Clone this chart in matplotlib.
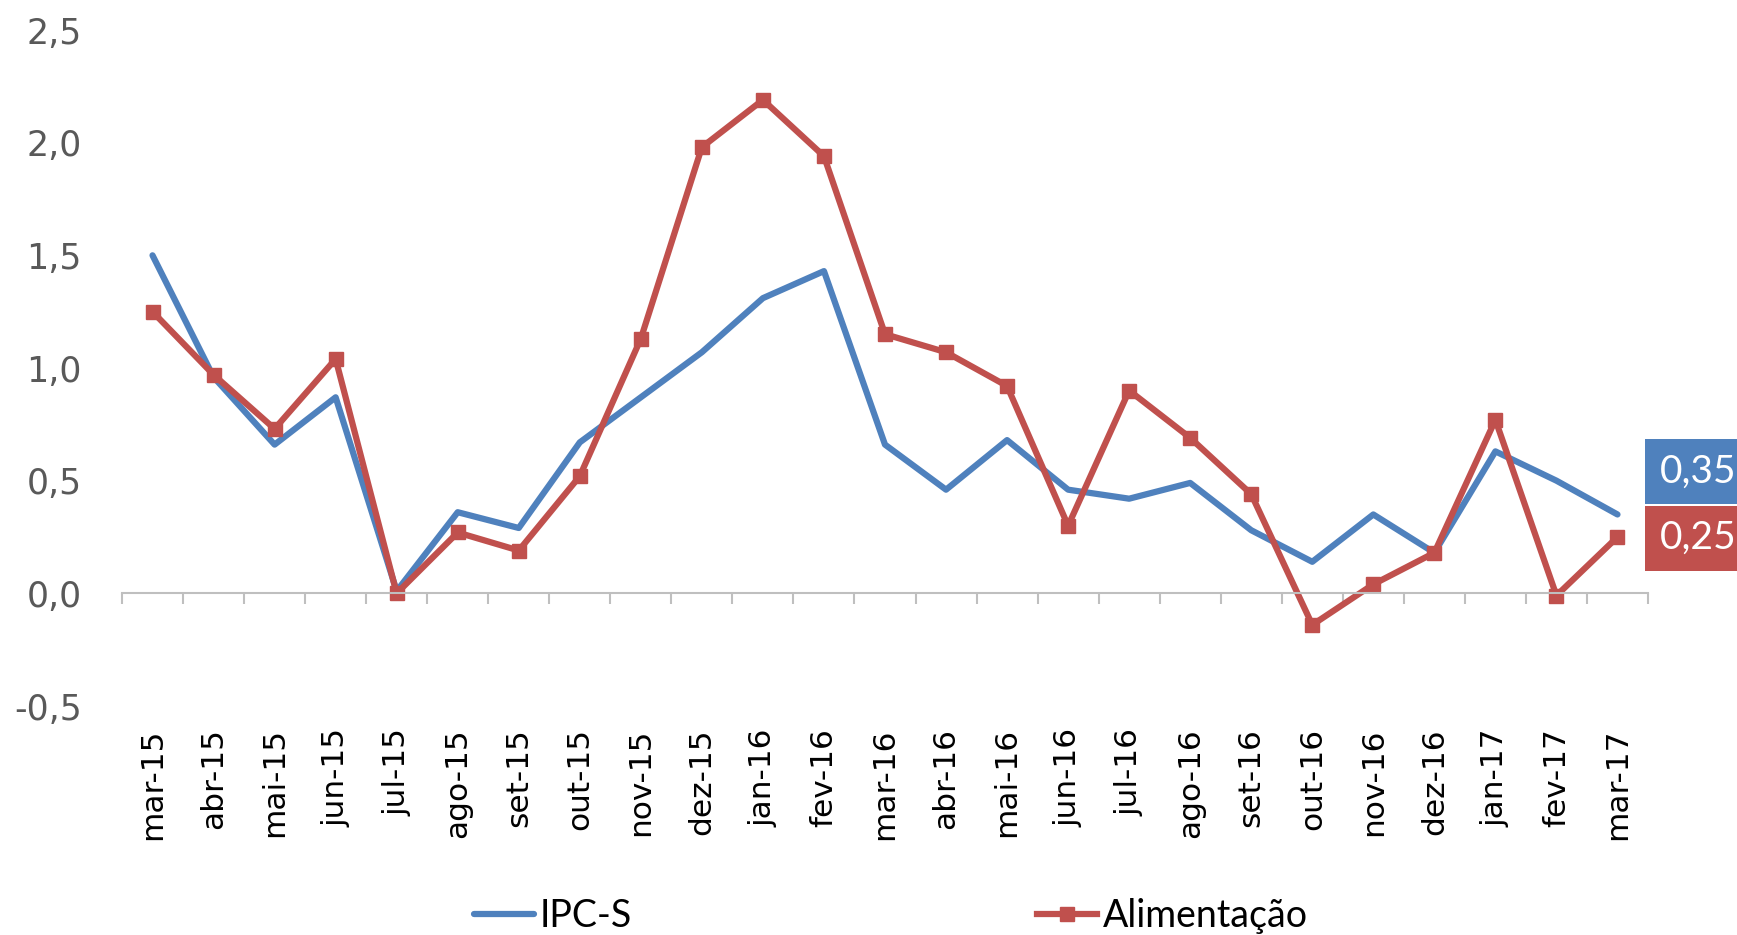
import numpy as np
import matplotlib
matplotlib.use("Agg")
import matplotlib.pyplot as plt
from matplotlib.ticker import FixedLocator, FuncFormatter

meses = ["mar-15", "abr-15", "mai-15", "jun-15", "jul-15", "ago-15", "set-15",
         "out-15", "nov-15", "dez-15", "jan-16", "fev-16", "mar-16", "abr-16",
         "mai-16", "jun-16", "jul-16", "ago-16", "set-16", "out-16", "nov-16",
         "dez-16", "jan-17", "fev-17", "mar-17"]
ipcs = [1.50, 0.96, 0.66, 0.87, 0.01, 0.36, 0.29, 0.67, 0.87, 1.07, 1.31, 1.43,
        0.66, 0.46, 0.68, 0.46, 0.42, 0.49, 0.28, 0.14, 0.35, 0.18, 0.63, 0.50, 0.35]
alim = [1.25, 0.97, 0.73, 1.04, 0.00, 0.27, 0.19, 0.52, 1.13, 1.98, 2.19, 1.94,
        1.15, 1.07, 0.92, 0.30, 0.90, 0.69, 0.44, -0.14, 0.04, 0.18, 0.77, -0.01, 0.25]
yticks = [-0.5, 0.0, 0.5, 1.0, 1.5, 2.0, 2.5]

azul = "#4F81BD"
verm = "#C0504D"
cinza = "#595959"

fig = plt.figure(figsize=(17.37, 9.35), dpi=100)
ax = fig.add_axes([122/1737, 1-706/935, (1648-122)/1737, (706-30)/935])

x = np.arange(len(meses))
ax.plot(x, ipcs, color=azul, lw=4.5, solid_capstyle="round", label="IPC-S")
ax.plot(x, alim, color=verm, lw=4.5, marker="s", ms=9.5, label="Alimentação")

ax.set_xlim(-0.5, len(meses) - 0.5)
ax.set_ylim(-0.5, 2.5)

for s in ["top", "right", "left"]:
    ax.spines[s].set_visible(False)
ax.spines["bottom"].set_position(("data", 0))
ax.spines["bottom"].set_color("#BFBFBF")
ax.spines["bottom"].set_linewidth(1.5)

ax.set_xticks(x)
ax.set_xticklabels(meses, rotation=90, fontsize=22.5, color="black")
ax.xaxis.set_minor_locator(FixedLocator(np.arange(-0.5, len(meses), 1.0)))
ax.tick_params(axis="x", which="major", length=0, pad=97)
ax.tick_params(axis="x", which="minor", length=8, width=1.5, color="#BFBFBF")

ax.set_yticks(yticks)
ax.yaxis.set_major_formatter(FuncFormatter(lambda v, p: f"{v:.1f}".replace(".", ",")))
ax.tick_params(axis="y", length=0, pad=29, labelsize=25, labelcolor=cinza)

# rotulos de dados do ultimo mes (caixa cortada na borda, como no original)
for yv, txt, cor in [(0.54, "0,35", azul), (0.245, "0,25", verm)]:
    ax.annotate(txt, xy=(24.5, yv), xytext=(8.5, 0), textcoords="offset points",
                color="white", fontsize=28, family="Lato", va="center", ha="left",
                annotation_clip=False,
                bbox=dict(boxstyle="square,pad=0.37", fc=cor, ec="none"))

fig.legend(loc="center left", bbox_to_anchor=(474/1737, 0.02), ncol=2,
           frameon=False, prop={"family": "Lato", "size": 27},
           handlelength=1.6, handletextpad=0.15, columnspacing=10.8,
           borderpad=0, borderaxespad=0)

fig.savefig("out.png", dpi=100)
